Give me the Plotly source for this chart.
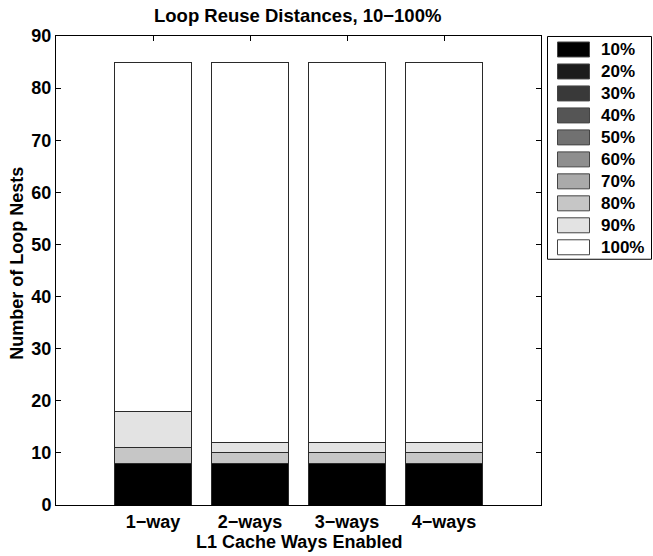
import plotly.graph_objects as go

categories = ["1\u2212way", "2\u2212ways", "3\u2212ways", "4\u2212ways"]
series_names = ["10%", "20%", "30%", "40%", "50%", "60%", "70%", "80%", "90%", "100%"]
series_values = [
    [8, 8, 8, 8],      # 10%
    [0, 0, 0, 0],      # 20%
    [0, 0, 0, 0],      # 30%
    [0, 0, 0, 0],      # 40%
    [0, 0, 0, 0],      # 50%
    [0, 0, 0, 0],      # 60%
    [0, 0, 0, 0],      # 70%
    [3, 2, 2, 2],      # 80%
    [7, 2, 2, 2],      # 90%
    [67, 73, 73, 73],  # 100%
]
colors = ["#000000", "#1c1c1c", "#393939", "#555555", "#717171",
          "#8e8e8e", "#aaaaaa", "#c6c6c6", "#e3e3e3", "#ffffff"]
y_ticks = [0, 10, 20, 30, 40, 50, 60, 70, 80, 90]

FONT = "Liberation Sans, Arial, Helvetica, sans-serif"

W, H = 653, 556
L, R, T, B = 56, 541, 36, 505.5
PW, PH = R - L, B - T


def px2x(px):
    return (px - L) / PW


def px2y(py):
    return (B - py) / PH


fig = go.Figure()
xpos = [1, 2, 3, 4]
for name, vals, col in zip(series_names, series_values, colors):
    fig.add_trace(go.Bar(
        x=xpos, y=vals, name=name, width=0.8, showlegend=False,
        marker=dict(color=col, line=dict(color="#2a2a2a", width=1)),
    ))

# Manual legend (MATLAB style)
shapes = [dict(type="rect", xref="paper", yref="paper",
               x0=px2x(547.5), x1=px2x(651.5), y0=px2y(259.5), y1=px2y(36.5),
               line=dict(color="black", width=1), fillcolor="white", layer="above")]
annotations = []
for i, (name, col) in enumerate(zip(series_names, colors)):
    cy = 49.5 + 22 * i
    shapes.append(dict(type="rect", xref="paper", yref="paper",
                       x0=px2x(557.5), x1=px2x(589.5),
                       y0=px2y(cy + 7.5), y1=px2y(cy - 7.5),
                       line=dict(color="#444444", width=1), fillcolor=col,
                       layer="above"))
    annotations.append(dict(text=name, xref="paper", yref="paper",
                            x=px2x(599), y=px2y(cy), xanchor="left",
                            yanchor="middle", showarrow=False,
                            font=dict(size=17, weight="bold", color="black")))

annotations.append(dict(text="Loop Reuse Distances, 10\u2212100%", xref="paper",
                        yref="paper", x=px2x(297.5), y=px2y(15),
                        xanchor="center", yanchor="middle", showarrow=False,
                        font=dict(size=18.5, weight="bold")))
annotations.append(dict(text="L1 Cache Ways Enabled", xref="paper",
                        yref="paper", x=px2x(298.5), y=px2y(543),
                        xanchor="center", yanchor="middle", showarrow=False,
                        font=dict(size=18, weight="bold")))
annotations.append(dict(text="Number of Loop Nests", xref="paper",
                        yref="paper", x=px2x(17), y=px2y(264),
                        xanchor="center", yanchor="middle", showarrow=False,
                        textangle=-90, font=dict(size=18, weight="bold")))

fig.update_layout(
    barmode="stack",
    width=W, height=H,
    margin=dict(l=L, r=W - R, t=T, b=H - B, autoexpand=False),
    paper_bgcolor="white", plot_bgcolor="white",
    font=dict(family=FONT, size=18, color="black", weight="bold"),
    showlegend=False,
    shapes=shapes,
    annotations=annotations,
    xaxis=dict(range=[0, 5], tickvals=xpos, ticktext=categories,
               showline=True, linecolor="black", linewidth=1, mirror="allticks",
               ticks="inside", ticklen=5, tickcolor="black", showgrid=False,
               zeroline=False, automargin=False,
               tickfont=dict(size=18, weight="bold")),
    yaxis=dict(range=[0, 90], tickvals=y_ticks,
               showline=True, linecolor="black", linewidth=1, mirror="allticks",
               ticks="inside", ticklen=5, tickcolor="black", showgrid=False,
               zeroline=False, automargin=False,
               tickfont=dict(size=18, weight="bold")),
)

fig.write_html("out.html",
               config={"displayModeBar": False},
               post_script="document.body.style.margin='0';"
                           "document.body.style.overflow='hidden';")
